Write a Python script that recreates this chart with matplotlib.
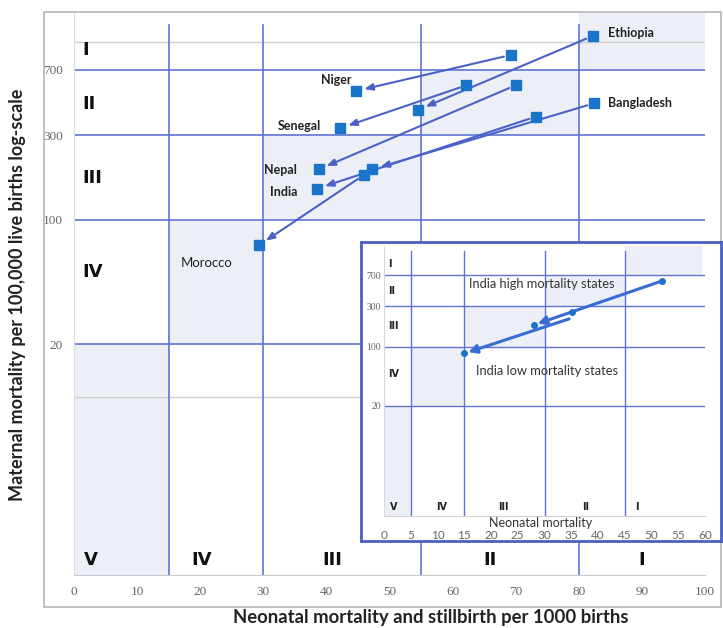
import matplotlib.pyplot as plt
from matplotlib.patches import Rectangle
from matplotlib.transforms import blended_transform_factory, offset_copy

# Зоны перехода (главный график)
zone_x = [0, 15, 30, 55, 80, 100]
zone_y = [1, 20, 100, 300, 700, 1466]
zone_names = ['V', 'IV', 'III', 'II', 'I']

# Страны: прошлое -> сейчас
countries = ['Niger', 'Ethiopia', 'Senegal', 'Nepal', 'India', 'Bangladesh', 'Morocco']
past_nmr = [69.2, 82.2, 62.2, 70.0, 73.2, 82.4, 45.9]
past_mmr = [850, 1088, 574, 574, 382, 454, 179]
now_nmr = [44.7, 54.5, 42.2, 38.8, 38.5, 47.3, 29.3]
now_mmr = [533, 417, 329, 193, 150, 193, 72]

# Вставка: штаты Индии
inset_zone_x = [0, 5, 15, 30, 45, 60]
inset_zone_y = [1, 20, 100, 300, 700, 1540]
states = ['India high mortality states', 'India low mortality states']
st_past_nmr = [52.0, 35.1]
st_past_mmr = [597, 253]
st_now_nmr = [28.0, 15.0]
st_now_mmr = [180, 83]

line_blue = '#5f74d2'
arrow_blue = '#4a62c8'
dot_blue = '#1a74c9'
shade = '#eceff6'
tick_grey = '#666666'
sans = ['Lato', 'DejaVu Sans']

fig = plt.figure(figsize=(7.23, 6.28), dpi=100)

# Серая рамка вокруг графика
fig.patches.append(Rectangle((44/723, 1-607/628), 677/723, 595/628,
                             transform=fig.transFigure, fill=False,
                             edgecolor='#b5b5b5', lw=1.2))

ax = fig.add_axes([74/723, 1-575/628, 631/723, 562/628])
ax.set_yscale('log')
ax.set_xlim(0, 100)
ax.set_ylim(zone_y[0], zone_y[-1])

# Заливка зон лесенкой
for i in range(5):
    ax.fill_between([zone_x[i], zone_x[i+1]], zone_y[i], zone_y[i+1],
                    color=shade, lw=0, zorder=0)

for y in [10, 1000]:
    ax.axhline(y, color='#d0d0d0', lw=1, zorder=1)
for y in zone_y[1:5]:
    ax.axhline(y, color=line_blue, lw=1.2, zorder=1)
for x in zone_x[1:5]:
    ax.axvline(x, ymax=0.979, color=line_blue, lw=1.2, zorder=1)

for i in range(len(countries)):
    ax.annotate('', xy=(now_nmr[i], now_mmr[i]), xytext=(past_nmr[i], past_mmr[i]),
                arrowprops=dict(arrowstyle='-|>,head_length=0.5,head_width=0.2',
                                color=arrow_blue, lw=1.5, shrinkA=5, shrinkB=6),
                zorder=2)
ax.plot(past_nmr, past_mmr, 's', color=dot_blue, ms=6.5, zorder=3)
ax.plot(now_nmr, now_mmr, 's', color=dot_blue, ms=6.5, zorder=3)

lab = dict(fontsize=9, fontweight='bold', color='#222222', va='center',
           family=sans, zorder=4)
ax.text(84.6, 1132, 'Ethiopia', ha='left', **lab)
ax.text(84.6, 456, 'Bangladesh', ha='left', **lab)
ax.text(44.0, 615, 'Niger', ha='right', **lab)
ax.text(39.2, 339, 'Senegal', ha='right', **lab)
ax.text(35.4, 191, 'Nepal', ha='right', **lab)
ax.text(35.4, 144, 'India', ha='right', **lab)
ax.text(21.0, 57, 'Morocco', ha='center', fontsize=9.5, color='#222222',
        va='center', family=sans)

# Римские цифры зон
zl = dict(fontsize=13, fontweight='bold', color='#111111', va='center')
for name, y in zip(['I', 'II', 'III', 'IV'], [907, 450, 172, 51]):
    ax.text(1.3, y, name, ha='left', **zl)
for name, x in zip(zone_names, [2.7, 20.3, 41, 66, 90]):
    ax.text(x, 1.21, name, ha='center', **zl)

ax.set_yticks([20, 100, 300, 700])
ax.set_yticklabels(['20', '100', '300', '700'])
ax.minorticks_off()
ax.set_xticks(range(0, 101, 10))
ax.tick_params(length=0, labelsize=9.5, labelcolor=tick_grey, pad=8)
for t in ax.get_xticklabels() + ax.get_yticklabels():
    t.set_family('Liberation Serif')
for s in ['top', 'right']:
    ax.spines[s].set_visible(False)
ax.spines['left'].set_color('#dddddd')
ax.spines['bottom'].set_color('#c8c8c8')
ax.patch.set_alpha(0)

fig.text(431/723, 1-618/628, 'Neonatal mortality and stillbirth per 1000 births',
         ha='center', va='center', fontsize=13.3, fontweight='bold', color='#222222',
         family=sans)
fig.text(18/723, 1-295/628, 'Maternal mortality per 100,000 live births log-scale',
         ha='center', va='center', rotation=90, fontsize=13, fontweight='bold',
         color='#222222', family=sans)

# Рамка вставки
frame = fig.add_axes([361/723, 1-541/628, 360/723, 299/628], zorder=3)
frame.set_xticks([])
frame.set_yticks([])
for s in frame.spines.values():
    s.set_color('#4a60c4')
    s.set_linewidth(2)

ax2 = fig.add_axes([384/723, 1-516/628, 321/723, 270/628], zorder=4)
ax2.patch.set_alpha(0)
ax2.set_yscale('log')
ax2.set_xlim(0, 60)
ax2.set_ylim(inset_zone_y[0], inset_zone_y[-1])
for i in range(5):
    ax2.fill_between([inset_zone_x[i], inset_zone_x[i+1] - (0.5 if i == 4 else 0)],
                     inset_zone_y[i], inset_zone_y[i+1], color=shade, lw=0, zorder=0)
for y in inset_zone_y[1:5]:
    ax2.axhline(y, color=line_blue, lw=1, zorder=1)
for x in inset_zone_x[1:5]:
    ax2.axvline(x, ymax=0.98, color=line_blue, lw=1, zorder=1)

# стрелка "low" начинается чуть ниже точки, как в оригинале
start_offsets = [0, -4]
for i in range(len(states)):
    ax2.annotate('', xy=(st_now_nmr[i], st_now_mmr[i]),
                 xytext=(st_past_nmr[i], st_past_mmr[i]),
                 textcoords=offset_copy(ax2.transData, fig=fig, y=start_offsets[i],
                                        units='points'),
                 arrowprops=dict(arrowstyle='-|>,head_length=0.5,head_width=0.25',
                                 color='#3a6dd4', lw=2.2, shrinkA=2, shrinkB=3),
                 zorder=2)
ax2.plot(st_past_nmr, st_past_mmr, 'o', color=dot_blue, ms=4, zorder=3)
ax2.plot(st_now_nmr, st_now_mmr, 'o', color=dot_blue, ms=4, zorder=3)

ax2.text(29.5, 551, states[0], ha='center', va='center', fontsize=9.3,
         color='#333333', family=sans)
ax2.text(30.5, 52, states[1], ha='center', va='center', fontsize=9.3,
         color='#333333', family=sans)

zl2 = dict(fontsize=7, fontweight='bold', color='#222222', va='center')
for name, y in zip(['I', 'II', 'III', 'IV'], [947, 456, 177, 47]):
    ax2.text(0.7, y, name, ha='left', **zl2)
for name, x in zip(zone_names, [1.9, 10.8, 22.4, 37.6, 47.3]):
    ax2.text(x, 1.28, name, ha='center', **zl2)

trans = blended_transform_factory(ax2.transData, ax2.transAxes)
ax2.text(29.3, -0.025, 'Neonatal mortality', transform=trans, ha='center', va='center',
         fontsize=9, color='#333333', family=sans)

ax2.set_yticks([20, 100, 300, 700])
ax2.set_yticklabels(['20', '100', '300', '700'])
ax2.minorticks_off()
ax2.set_xticks(range(0, 61, 5))
ax2.tick_params(length=0, labelsize=7, labelcolor=tick_grey, pad=2)
ax2.tick_params(axis='x', pad=10, labelsize=8.5)
for t in ax2.get_yticklabels():
    t.set_family('Liberation Serif')
for t in ax2.get_xticklabels():
    t.set_family(sans)
for s in ['top', 'right']:
    ax2.spines[s].set_visible(False)
ax2.spines['left'].set_color('#d8d8d8')
ax2.spines['bottom'].set_color('#d0d0d0')

fig.savefig('out.png', dpi=100)
